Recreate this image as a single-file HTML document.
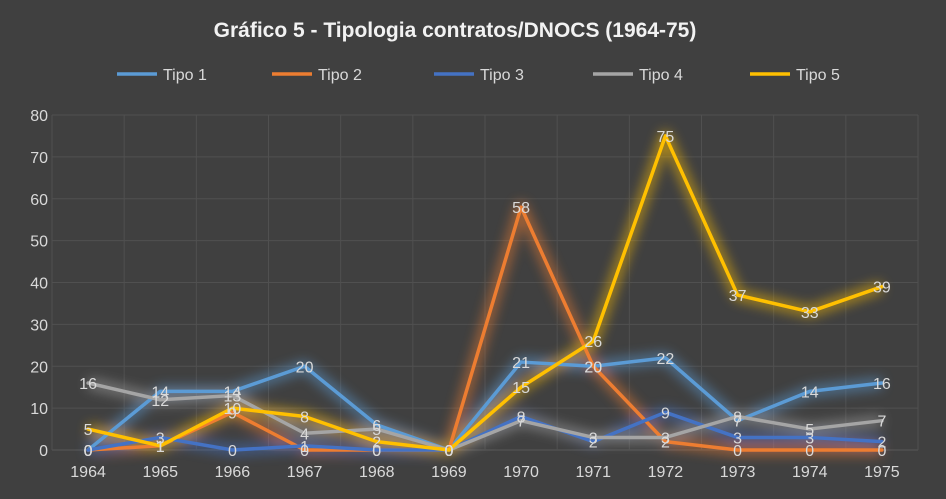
<!DOCTYPE html>
<html><head><meta charset="utf-8"><style>
html,body{margin:0;padding:0;background:#404040;}
svg{display:block;font-family:"Liberation Sans",sans-serif;}
</style></head><body>
<svg id="c" width="946" height="499">
<defs><filter id="glow" x="-20%" y="-20%" width="140%" height="140%"><feGaussianBlur stdDeviation="6"/></filter></defs>
<rect width="946" height="499" fill="#404040"/>
<text x="455" y="37" text-anchor="middle" font-size="21" font-weight="bold" fill="#f2f2f2">Gráfico 5 - Tipologia contratos/DNOCS (1964-75)</text>
<g id="grid"></g><g id="glowl" filter="url(#glow)" opacity="0.6"></g><g id="lines"></g><g id="labels"></g><g id="axes"></g><g id="legend"></g>
</svg>
<script>
const years=["1964","1965","1966","1967","1968","1969","1970","1971","1972","1973","1974","1975"];
const tipo1=[0,14,14,20,6,0,21,20,22,7,14,16];
const tipo2=[0,1,9,0,0,0,58,20,2,0,0,0];
const tipo3=[0,3,0,1,0,0,8,2,9,3,3,2];
const tipo4=[16,12,13,4,5,0,7,3,3,8,5,7];
const tipo5=[5,1,10,8,2,0,15,26,75,37,33,39];
const yTicks=[0,10,20,30,40,50,60,70,80];
const seriesNames=["Tipo 1","Tipo 2","Tipo 3","Tipo 4","Tipo 5"];
const series=[tipo1,tipo2,tipo3,tipo4,tipo5];
const colors=["#5B9BD5","#ED7D31","#4472C4","#A5A5A5","#FFC000"];
const NS="http://www.w3.org/2000/svg";
const L=52,R=918,T=115,B=450,yMax=80;
const step=(R-L)/years.length;
const x=i=>L+step*(i+0.5);
const y=v=>B-(v/yMax)*(B-T);
function mk(tag,attrs,parent,text){const e=document.createElementNS(NS,tag);for(const k in attrs)e.setAttribute(k,attrs[k]);if(text!==undefined)e.textContent=text;document.getElementById(parent).appendChild(e);return e;}
yTicks.forEach(t=>{
 const g=mk("line",{x1:L,x2:R,y1:y(t),y2:y(t),stroke:t===0?"#595959":"#505050","stroke-width":1},"grid");
 
 
 const l=mk("text",{x:L-4,y:y(t)+6,"text-anchor":"end","font-size":16,fill:"#d9d9d9"},"axes",t);
 
 
});
for(let i=0;i<=years.length;i++){
 const g=mk("line",{x1:L+step*i,x2:L+step*i,y1:T,y2:B,stroke:"#505050","stroke-width":1},"grid");
 
 
}
years.forEach((yr,i)=>{
 const l=mk("text",{x:x(i),y:477,"text-anchor":"middle","font-size":16,fill:"#d9d9d9"},"axes",yr);
 
 
});
series.forEach((s,k)=>{
 const pts=s.map((v,i)=>x(i)+","+y(v)).join(" ");
 const gl=mk("polyline",{points:pts,fill:"none",stroke:colors[k],"stroke-width":10,"stroke-linejoin":"round"},"glowl");
 
 
 const p=mk("polyline",{points:pts,fill:"none",stroke:colors[k],"stroke-width":3.5,"stroke-linejoin":"round","stroke-linecap":"round"},"lines");
 
 
 s.forEach((v,i)=>{
  const t=mk("text",{x:x(i),y:y(v)+6,"text-anchor":"middle","font-size":16,fill:"#d9d9d9"},"labels",v);
  
  
 });
});
const legX=[117,272,434,593,750];
seriesNames.forEach((n,k)=>{
 const ln=mk("line",{x1:legX[k],x2:legX[k]+40,y1:74,y2:74,stroke:colors[k],"stroke-width":3.5},"legend");
 
 
 const t=mk("text",{x:legX[k]+46,y:80,"font-size":16,fill:"#d9d9d9"},"legend",n);
 
 
});
</script>
</body></html>
